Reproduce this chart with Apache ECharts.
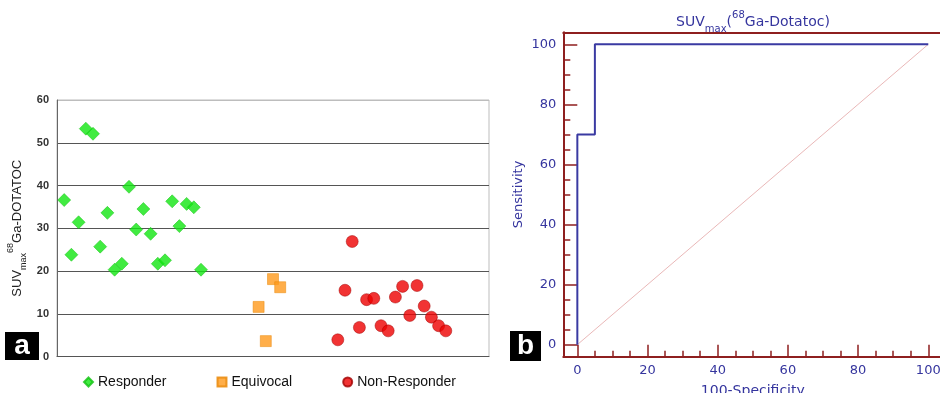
<!DOCTYPE html>
<html><head><meta charset="utf-8">
<script src="https://cdn.jsdelivr.net/npm/echarts@6/dist/echarts.min.js"></script>
<style>html,body{margin:0;padding:0;background:#fff}#c{width:940px;height:393px}</style>
</head><body><div id="c"></div>
<script>
// ---- Panel a data ----
const responderX = [1,2,3,4,5,6,7,8,9,10,11,12,13,14,15,16,17,18,19,20];
const responderY = [36.6,23.8,31.4,53.3,52.1,25.7,33.6,20.3,21.7,39.7,29.7,34.5,28.7,21.7,22.5,36.3,30.5,35.7,34.9,20.3];
const equivocalX = [28,29,30,31];
const equivocalY = [11.6,3.6,18.1,16.2];
const nonResponderX = [39,40,41,42,43,44,45,46,47,48,49,50,51,52,53,54];
const nonResponderY = [3.9,15.5,26.9,6.8,13.3,13.6,7.2,6.0,13.9,16.4,9.6,16.6,11.8,9.2,7.2,6.0];
const seriesNames = ['Responder','Equivocal','Non-Responder'];
// ---- Panel b data ----
const rocX = [0,0,5,5,100];
const rocY = [0,70,70,100,100];
const refX = [0,100];
const refY = [0,100];
const rocMajorTicks = [0,20,40,60,80,100];
const rocMinorTicks = [5,10,15,25,30,35,45,50,55,65,70,75,85,90,95];

const zip = (a,b) => a.map((v,i)=>[v,b[i]]);
const blue = '#3a3aa2', frame = '#8e1f1f', txtBlue = '#35359e';
const F = 'Liberation Sans, Arial, sans-serif';
const D = 'DejaVu Sans, sans-serif';
const chart = echarts.init(document.getElementById('c'));
chart.setOption({
  animation:false,
  backgroundColor:'#fff',
  title:{
    text:'{m|SUV}{s|max}{m|(}{p|68}{m|Ga-Dotatoc)}',
    left:748, top:5, textAlign:'center',
    textStyle:{fontWeight:'normal',rich:{
      m:{fontFamily:D,fontSize:14,fontWeight:'normal',color:txtBlue,lineHeight:24,verticalAlign:'middle'},
      s:{fontFamily:D,fontSize:10,fontWeight:'normal',color:txtBlue,lineHeight:11,verticalAlign:'bottom'},
      p:{fontFamily:D,fontSize:10,fontWeight:'normal',color:txtBlue,lineHeight:11,verticalAlign:'top'}
    }}
  },
  legend:{
    data:seriesNames, left:83, top:375, padding:0, itemWidth:9, itemHeight:9, itemGap:50,
    textStyle:{fontFamily:F,fontSize:14,color:'#111'}
  },
  grid:[
    {left:57, top:100, width:432, height:256.5, outerBoundsMode:'none', containLabel:false, show:true, borderColor:'#bdbdbd', borderWidth:1, backgroundColor:'transparent'},
    {left:563.3, top:32.3, width:379, height:324.4, outerBoundsMode:'none', containLabel:false}
  ],
  xAxis:[
    {gridIndex:0, type:'value', min:0, max:60, axisLine:{show:true,lineStyle:{color:'#555',width:1}}, axisTick:{show:false}, axisLabel:{show:false}, splitLine:{show:false}},
    {gridIndex:1, type:'value', min:-4, max:104, position:'bottom',
      axisLine:{show:true,onZero:false,lineStyle:{color:frame,width:2}},
      axisTick:{show:true,inside:true,length:12,customValues:rocMajorTicks,lineStyle:{color:frame,width:1.5}},
      axisLabel:{margin:7,customValues:rocMajorTicks,fontFamily:D,fontSize:13,color:txtBlue},
      splitLine:{show:false},
      name:'100-Specificity', nameLocation:'middle', nameGap:28,
      nameTextStyle:{fontFamily:D,fontSize:14,color:txtBlue}},
    {gridIndex:1, type:'value', min:-4, max:104, position:'bottom',
      axisLine:{show:false,onZero:false},
      axisTick:{show:true,inside:true,length:6,customValues:rocMinorTicks,lineStyle:{color:frame,width:1.5}},
      axisLabel:{show:false}, splitLine:{show:false}},
    {gridIndex:1, type:'value', min:-4, max:104, position:'top', axisLine:{show:true,onZero:false,lineStyle:{color:frame,width:2}}, axisTick:{show:false}, axisLabel:{show:false}, splitLine:{show:false}}
  ],
  yAxis:[
    {gridIndex:0, type:'value', min:0, max:60, interval:10,
      axisLine:{show:true,lineStyle:{color:'#666',width:1}}, axisTick:{show:false},
      axisLabel:{margin:8,fontFamily:F,fontSize:11,fontWeight:'bold',color:'#333'},
      splitLine:{show:true,lineStyle:{color:['#555','#555','#555','#555','#555','#555','#bdbdbd'],width:1}},
      name:'{m|SUV}{s|max}{p|68}{m|Ga-DOTATOC}', nameLocation:'middle', nameGap:29,
      nameTextStyle:{rich:{
        m:{fontFamily:F,fontSize:13,color:'#222',lineHeight:22,verticalAlign:'middle'},
        s:{fontFamily:F,fontSize:9,color:'#222',lineHeight:10,verticalAlign:'bottom'},
        p:{fontFamily:F,fontSize:9,color:'#222',lineHeight:10,verticalAlign:'top'}
      }}},
    {gridIndex:1, type:'value', min:-4, max:104, position:'left',
      axisLine:{show:true,onZero:false,lineStyle:{color:frame,width:2}},
      axisTick:{show:true,inside:true,length:14,customValues:rocMajorTicks,lineStyle:{color:frame,width:1.5}},
      axisLabel:{margin:7,customValues:rocMajorTicks,fontFamily:D,fontSize:13,color:txtBlue},
      splitLine:{show:false},
      name:'Sensitivity', nameLocation:'middle', nameGap:38,
      nameTextStyle:{fontFamily:D,fontSize:13,color:txtBlue}},
    {gridIndex:1, type:'value', min:-4, max:104, position:'left',
      axisLine:{show:false,onZero:false},
      axisTick:{show:true,inside:true,length:7,customValues:rocMinorTicks,lineStyle:{color:frame,width:1.5}},
      axisLabel:{show:false}, splitLine:{show:false}}
  ],
  series:[
    {name:'Responder', type:'scatter', xAxisIndex:0, yAxisIndex:0, symbol:'diamond', symbolSize:13,
      itemStyle:{color:'#12e612',borderColor:'#10c010',borderWidth:0.6}, data:zip(responderX,responderY)},
    {name:'Equivocal', type:'scatter', xAxisIndex:0, yAxisIndex:0, symbol:'rect', symbolSize:11,
      itemStyle:{color:'#ff9a1c',borderColor:'#e88400',borderWidth:0.6}, data:zip(equivocalX,equivocalY)},
    {name:'Non-Responder', type:'scatter', xAxisIndex:0, yAxisIndex:0, symbol:'circle', symbolSize:12,
      itemStyle:{color:'#ee0000',borderColor:'#a00000',borderWidth:0.6}, data:zip(nonResponderX,nonResponderY)},
    {name:'reference', type:'line', xAxisIndex:1, yAxisIndex:1, showSymbol:false, silent:true,
      lineStyle:{color:'#eab8b8',width:1}, data:zip(refX,refY)},
    {name:'ROC', type:'line', xAxisIndex:1, yAxisIndex:1, showSymbol:false, silent:true,
      lineStyle:{color:blue,width:2}, data:zip(rocX,rocY)}
  ],
  graphic:[
    {type:'group', left:5, top:332, children:[
      {type:'rect', shape:{x:0,y:0,width:34,height:28}, style:{fill:'#000'}},
      {type:'text', x:17, y:14, style:{text:'a',fill:'#fff',font:'bold 28px Liberation Sans, Arial',align:'center',verticalAlign:'middle'}}
    ]},
    {type:'group', left:510, top:331, children:[
      {type:'rect', shape:{x:0,y:0,width:31,height:30}, style:{fill:'#000'}},
      {type:'text', x:15.5, y:15, style:{text:'b',fill:'#fff',font:'bold 28px Liberation Sans, Arial',align:'center',verticalAlign:'middle'}}
    ]}
  ]
});
</script>
</body></html>
